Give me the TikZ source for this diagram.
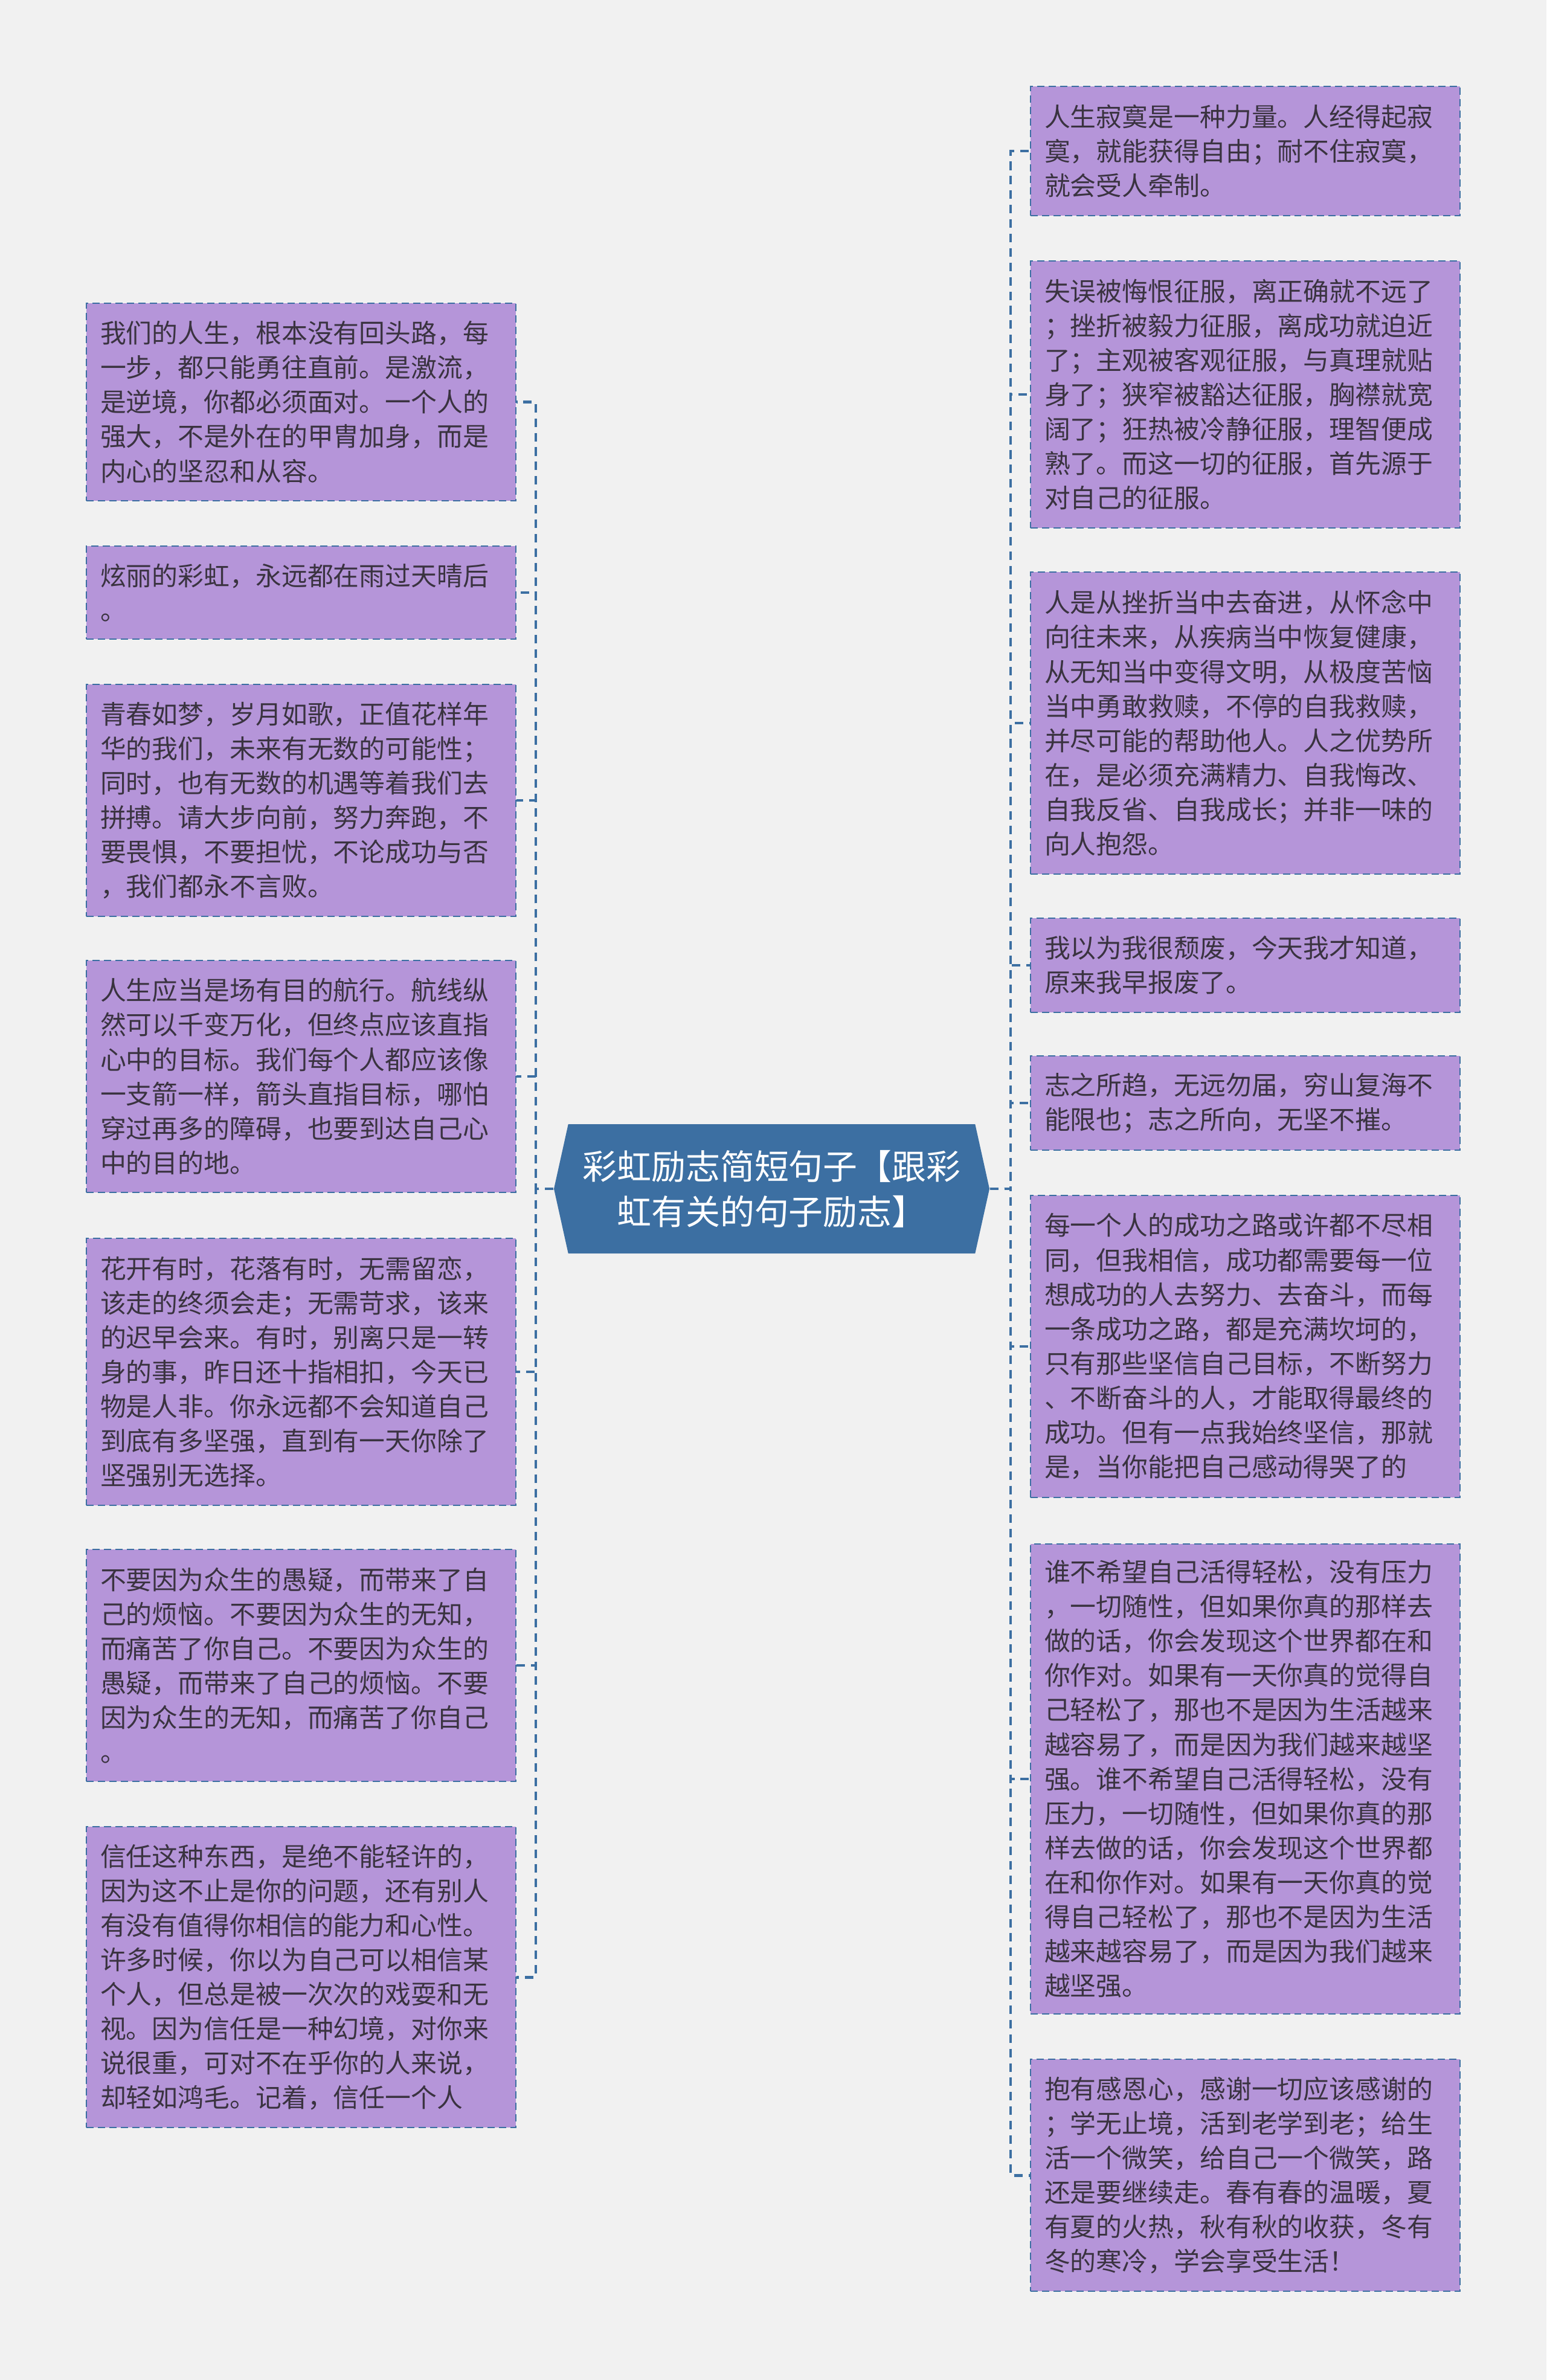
\documentclass[tikz,border=0pt]{standalone}
\usepackage{fontspec}
\setmainfont{Noto Sans CJK SC}
\usepackage{tikz}
\usetikzlibrary{shapes.symbols}
\definecolor{Lilac}{HTML}{B595D9}
\definecolor{Steel}{HTML}{3C6FA2}
\definecolor{Ink}{HTML}{3A3340}
\definecolor{Paper}{HTML}{F1F1F1}

\begin{document}
\begin{tikzpicture}[x=1cm,y=1cm,
  quotebox/.style={rectangle,draw=Steel,line width=0.7pt,dash pattern=on 3.4pt off 2pt,fill=Lilac,text=Ink,align=left,text width=6.65cm,inner xsep=0.23cm,inner ysep=0.1cm,font=\fontsize{12.2}{16.25}\selectfont},
  titlebox/.style={signal,signal to=west and east,signal pointer angle=155,fill=Steel,text=white,align=center,minimum width=7.21cm,minimum height=2.14cm,inner sep=0pt,font=\fontsize{16.2}{21.3}\selectfont},
  link/.style={draw=Steel,line width=1.4pt,dash pattern=on 4pt off 2.8pt}]
  \fill[Paper] (0,0) rectangle (25.6,-39.4);
  \useasboundingbox (0,0) rectangle (25.6,-39.4);

  \node[titlebox] (title) at (12.775,-19.68) {彩虹励志简短句子【跟彩\\虹有关的句子励志】};

  \node[quotebox,minimum height=3.27cm] (life) at (4.985,-6.655) {我们的人生，根本没有回头路，每\\一步，都只能勇往直前。是激流，\\是逆境，你都必须面对。一个人的\\强大，不是外在的甲胄加身，而是\\内心的坚忍和从容。};
  \node[quotebox,minimum height=1.54cm] (rainbow) at (4.985,-9.81) {炫丽的彩虹，永远都在雨过天晴后\\。};
  \node[quotebox,minimum height=3.84cm] (youth) at (4.985,-13.25) {青春如梦，岁月如歌，正值花样年\\华的我们，未来有无数的可能性；\\同时，也有无数的机遇等着我们去\\拼搏。请大步向前，努力奔跑，不\\要畏惧，不要担忧，不论成功与否\\，我们都永不言败。};
  \node[quotebox,minimum height=3.84cm] (voyage) at (4.985,-17.82) {人生应当是场有目的航行。航线纵\\然可以千变万化，但终点应该直指\\心中的目标。我们每个人都应该像\\一支箭一样，箭头直指目标，哪怕\\穿过再多的障碍，也要到达自己心\\中的目的地。};
  \node[quotebox,minimum height=4.42cm] (flower) at (4.985,-22.71) {花开有时，花落有时，无需留恋，\\该走的终须会走；无需苛求，该来\\的迟早会来。有时，别离只是一转\\身的事，昨日还十指相扣，今天已\\物是人非。你永远都不会知道自己\\到底有多坚强，直到有一天你除了\\坚强别无选择。};
  \node[quotebox,minimum height=3.84cm] (crowd) at (4.985,-27.57) {不要因为众生的愚疑，而带来了自\\己的烦恼。不要因为众生的无知，\\而痛苦了你自己。不要因为众生的\\愚疑，而带来了自己的烦恼。不要\\因为众生的无知，而痛苦了你自己\\。};
  \node[quotebox,minimum height=4.98cm] (trust) at (4.985,-32.73) {信任这种东西，是绝不能轻许的，\\因为这不止是你的问题，还有别人\\有没有值得你相信的能力和心性。\\许多时候，你以为自己可以相信某\\个人，但总是被一次次的戏耍和无\\视。因为信任是一种幻境，对你来\\说很重，可对不在乎你的人来说，\\却轻如鸿毛。记着，信任一个人};

  \node[quotebox,minimum height=2.14cm] (lonely) at (20.615,-2.50) {人生寂寞是一种力量。人经得起寂\\寞，就能获得自由；耐不住寂寞，\\就会受人牵制。};
  \node[quotebox,minimum height=4.42cm] (conquer) at (20.615,-6.53) {失误被悔恨征服，离正确就不远了\\；挫折被毅力征服，离成功就迫近\\了；主观被客观征服，与真理就贴\\身了；狭窄被豁达征服，胸襟就宽\\阔了；狂热被冷静征服，理智便成\\熟了。而这一切的征服，首先源于\\对自己的征服。};
  \node[quotebox,minimum height=5.00cm] (setback) at (20.615,-11.97) {人是从挫折当中去奋进，从怀念中\\向往未来，从疾病当中恢复健康，\\从无知当中变得文明，从极度苦恼\\当中勇敢救赎，不停的自我救赎，\\并尽可能的帮助他人。人之优势所\\在，是必须充满精力、自我悔改、\\自我反省、自我成长；并非一味的\\向人抱怨。};
  \node[quotebox,minimum height=1.56cm] (decay) at (20.615,-15.98) {我以为我很颓废，今天我才知道，\\原来我早报废了。};
  \node[quotebox,minimum height=1.56cm] (will) at (20.615,-18.26) {志之所趋，无远勿届，穷山复海不\\能限也；志之所向，无坚不摧。};
  \node[quotebox,minimum height=5.00cm] (success) at (20.615,-22.29) {每一个人的成功之路或许都不尽相\\同，但我相信，成功都需要每一位\\想成功的人去努力、去奋斗，而每\\一条成功之路，都是充满坎坷的，\\只有那些坚信自己目标，不断努力\\、不断奋斗的人，才能取得最终的\\成功。但有一点我始终坚信，那就\\是，当你能把自己感动得哭了的};
  \node[quotebox,minimum height=7.78cm] (easy) at (20.615,-29.45) {谁不希望自己活得轻松，没有压力\\，一切随性，但如果你真的那样去\\做的话，你会发现这个世界都在和\\你作对。如果有一天你真的觉得自\\己轻松了，那也不是因为生活越来\\越容易了，而是因为我们越来越坚\\强。谁不希望自己活得轻松，没有\\压力，一切随性，但如果你真的那\\样去做的话，你会发现这个世界都\\在和你作对。如果有一天你真的觉\\得自己轻松了，那也不是因为生活\\越来越容易了，而是因为我们越来\\越坚强。};
  \node[quotebox,minimum height=3.84cm] (thanks) at (20.615,-36.01) {抱有感恩心，感谢一切应该感谢的\\；学无止境，活到老学到老；给生\\活一个微笑，给自己一个微笑，路\\还是要继续走。春有春的温暖，夏\\有夏的火热，秋有秋的收获，冬有\\冬的寒冷，学会享受生活！};

  \coordinate (lj) at (8.87,-19.68);
  \coordinate (rj) at (16.73,-19.68);

  \draw[link] (title.west) -- (lj) |- (life.east);
  \draw[link] (title.west) -- (lj) |- (rainbow.east);
  \draw[link] (title.west) -- (lj) |- (youth.east);
  \draw[link] (title.west) -- (lj) |- (voyage.east);
  \draw[link] (title.west) -- (lj) |- (flower.east);
  \draw[link] (title.west) -- (lj) |- (crowd.east);
  \draw[link] (title.west) -- (lj) |- (trust.east);
  \draw[link] (title.east) -- (rj) |- (lonely.west);
  \draw[link] (title.east) -- (rj) |- (conquer.west);
  \draw[link] (title.east) -- (rj) |- (setback.west);
  \draw[link] (title.east) -- (rj) |- (decay.west);
  \draw[link] (title.east) -- (rj) |- (will.west);
  \draw[link] (title.east) -- (rj) |- (success.west);
  \draw[link] (title.east) -- (rj) |- (easy.west);
  \draw[link] (title.east) -- (rj) |- (thanks.west);
\end{tikzpicture}
\end{document}
